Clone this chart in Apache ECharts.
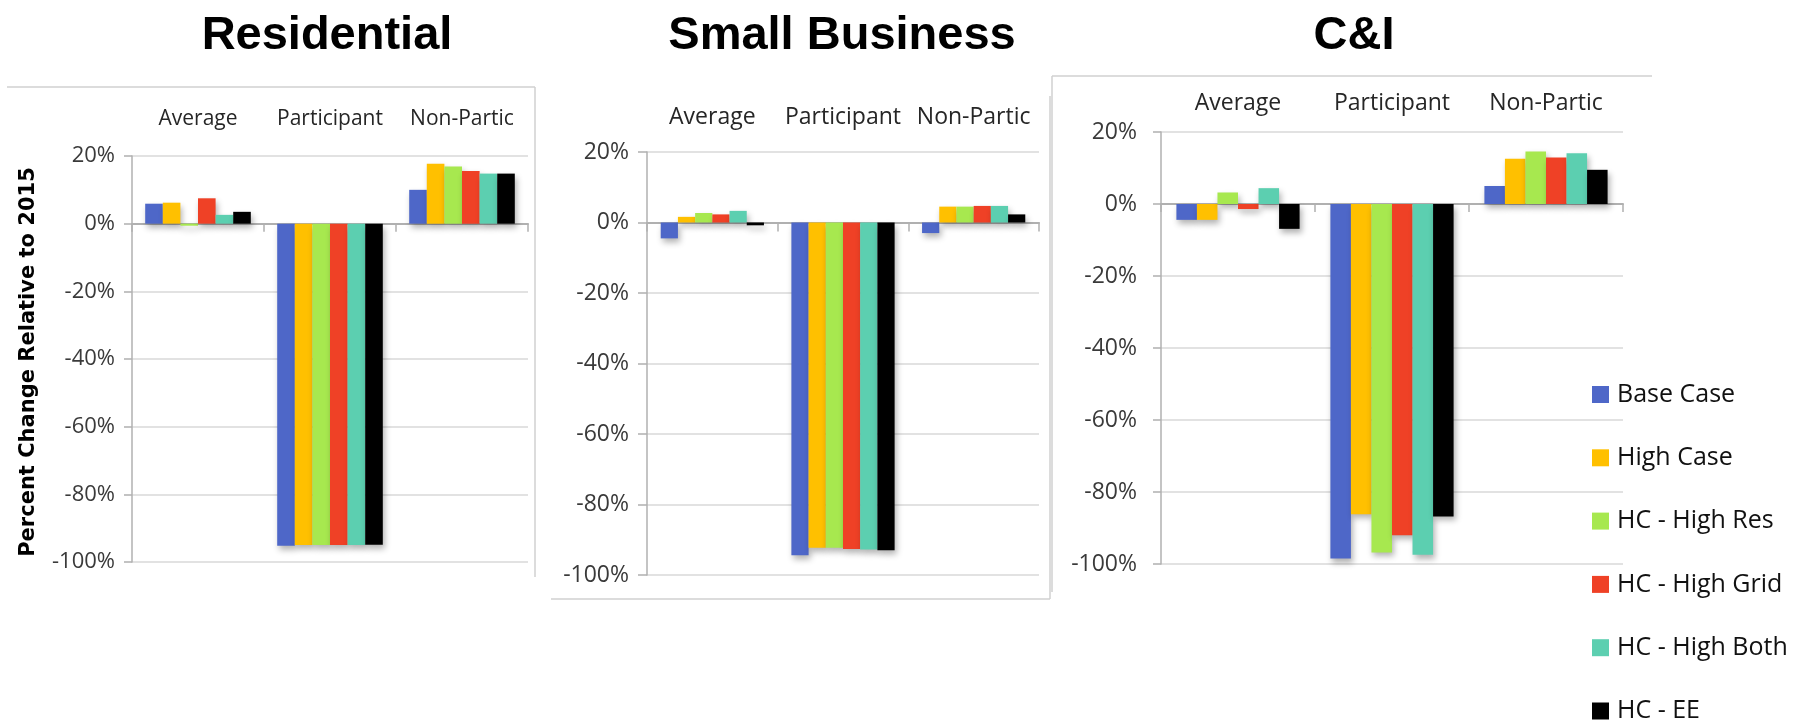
<!DOCTYPE html>
<html><head><meta charset="utf-8">
<script src="https://cdn.jsdelivr.net/npm/echarts@6/dist/echarts.min.js"></script>
<style>html,body{margin:0;padding:0;background:#fff}#c{width:1815px;height:723px}</style>
</head><body><div id="c"></div>
<script>
// ---- data ----
const categories = ['Average', 'Participant', 'Non-Partic'];
const seriesNames = ['Base Case', 'High Case', 'HC - High Res', 'HC - High Grid', 'HC - High Both', 'HC - EE'];
const panelTitles = ['Residential', 'Small Business', 'C&I'];
const yAxisTitle = 'Percent Change Relative to 2015';
const yTickValues = [-100, -80, -60, -40, -20, 0, 20];

// values (%) per category, in series order
const resAverage     = [5.9, 6.2, -0.6, 7.5, 2.6, 3.5];
const resParticipant = [-95.2, -95.0, -95.0, -95.0, -95.0, -94.9];
const resNonPartic   = [10.0, 17.7, 16.9, 15.6, 14.8, 14.8];

const sbAverage      = [-4.5, 1.6, 2.7, 2.3, 3.3, -0.8];
const sbParticipant  = [-94.4, -92.3, -92.3, -92.6, -92.8, -93.0];
const sbNonPartic    = [-3.0, 4.5, 4.5, 4.7, 4.7, 2.3];

const ciAverage      = [-4.4, -4.4, 3.2, -1.4, 4.4, -6.9];
const ciParticipant  = [-98.5, -86.2, -96.8, -92.0, -97.4, -86.8];
const ciNonPartic    = [5.0, 12.6, 14.6, 12.9, 14.1, 9.5];

// ---- styling / layout ----
const seriesColors = ['#4e67c8', '#ffc000', '#a7e84f', '#ef4126', '#5ccfb0', '#000000'];
const panels = [
  { data: [resAverage, resParticipant, resNonPartic], grid: { left: 132, top: 156, width: 396, height: 406 },
    labelSize: 22, labelMargin: 17, catSize: 21, catMargin: 26, gap: '20%', tick: 8 },
  { data: [sbAverage, sbParticipant, sbNonPartic], grid: { left: 647, top: 152, width: 392, height: 423 },
    labelSize: 23, labelMargin: 18, catSize: 23, catMargin: 23, gap: '21%', tick: 9 },
  { data: [ciAverage, ciParticipant, ciNonPartic], grid: { left: 1161, top: 132, width: 462, height: 432 },
    labelSize: 23, labelMargin: 24, catSize: 23, catMargin: 17, gap: '20%', tick: 8 }
];
const FONT = 'Open Sans';
const axisGray = '#b0b0b0';
const gridGray = '#d9d9d9';

const grid = [], xAxis = [], yAxis = [], series = [];
panels.forEach((p, pi) => {
  grid.push(Object.assign({ outerBoundsMode: 'none', containLabel: false }, p.grid));
  // category labels along the top
  xAxis.push({
    type: 'category', gridIndex: pi, data: categories, position: 'top',
    axisLine: { show: false, onZero: false }, axisTick: { show: false }, splitLine: { show: false },
    axisLabel: { interval: 0, hideOverlap: false, margin: p.catMargin, fontFamily: FONT, fontSize: p.catSize, color: '#262626' }
  });
  // zero line with boundary ticks
  xAxis.push({
    type: 'category', gridIndex: pi, data: categories, position: 'bottom',
    axisLine: { show: true, onZero: true, lineStyle: { color: axisGray, width: 2 } },
    axisTick: { show: true, interval: 0, length: p.tick, lineStyle: { color: axisGray, width: 1.5 } },
    axisLabel: { show: false }, splitLine: { show: false }
  });
  yAxis.push({
    type: 'value', gridIndex: pi, min: yTickValues[0], max: yTickValues[yTickValues.length - 1], interval: 20,
    axisLine: { show: true, lineStyle: { color: axisGray, width: 1.5 } },
    axisTick: { show: true, length: p.tick, lineStyle: { color: axisGray, width: 1.5 } },
    splitLine: { show: true, lineStyle: { color: gridGray, width: 1.5 } },
    axisLabel: { margin: p.labelMargin, fontFamily: FONT, fontSize: p.labelSize, color: '#3a3a3a', formatter: v => v + '%' }
  });
  seriesNames.forEach((name, si) => {
    series.push({
      type: 'bar', name: name, xAxisIndex: pi * 2, yAxisIndex: pi,
      data: p.data.map(cat => cat[si]),
      barGap: '0%', barCategoryGap: p.gap,
      itemStyle: { color: seriesColors[si], shadowColor: 'rgba(0,0,0,0.3)', shadowBlur: 6, shadowOffsetX: 2, shadowOffsetY: 4 },
      emphasis: { disabled: true }, animation: false
    });
  });
});

const titleCenters = [[327, 36], [842, 36], [1354, 36]];
const graphic = panelTitles.map((t, i) => ({
  type: 'text', x: titleCenters[i][0], y: titleCenters[i][1],
  style: { text: t, fontFamily: 'Liberation Sans', fontWeight: 'bold', fontSize: 47, fill: '#000', align: 'center', verticalAlign: 'middle' }
}));
graphic.push({
  type: 'text', x: 29, y: 362, rotation: Math.PI / 2,
  style: { text: yAxisTitle, fontFamily: 'DejaVu Sans', fontWeight: 'bold', fontSize: 21, fill: '#000', align: 'center', verticalAlign: 'middle' }
});
const borderStyle = { stroke: '#d0d0d0', lineWidth: 1.5 };
[
  [7, 87, 535, 87], [535, 87, 535, 577],
  [551, 599, 1050, 599], [1050, 96, 1050, 599],
  [1052, 76, 1652, 76], [1052, 76, 1052, 592]
].forEach(s => graphic.push({ type: 'line', shape: { x1: s[0], y1: s[1], x2: s[2], y2: s[3] }, style: borderStyle, silent: true }));

// one legend block per entry so each row sits at its own place
const legend = seriesNames.map((name, i) => ({
  orient: 'vertical', left: 1592, top: 382 + i * 63.3, padding: 0, itemWidth: 17, itemHeight: 17,
  icon: 'rect', data: [name], selectedMode: false,
  itemStyle: { shadowBlur: 0, shadowOffsetX: 0, shadowOffsetY: 0 },
  textStyle: { fontFamily: FONT, fontSize: 25, color: '#111', padding: [0, 0, 0, 3] }
}));

const chart = echarts.init(document.getElementById('c'), null, { renderer: 'canvas' });
chart.setOption({
  backgroundColor: '#fff',
  animation: false,
  color: seriesColors,
  grid, xAxis, yAxis, series, graphic, legend
});
</script></body></html>
